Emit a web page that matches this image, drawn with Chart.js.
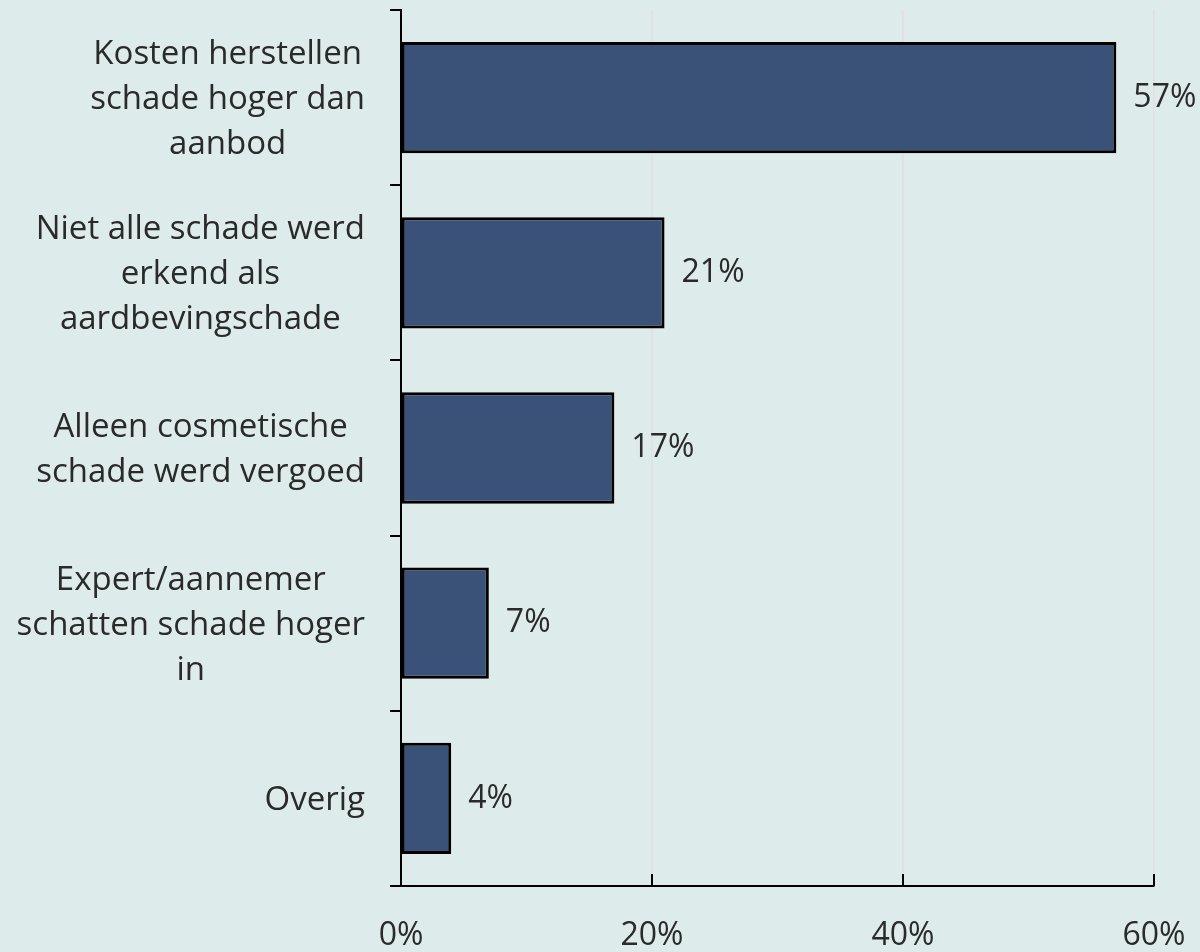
<!DOCTYPE html>
<html>
<head>
<meta charset="utf-8">
<script src="https://cdn.jsdelivr.net/npm/chart.js@4.4.1/dist/chart.umd.min.js"></script>
<style>
  html, body { margin: 0; padding: 0; background: #deebeb; }
  #wrap { width: 1200px; height: 952px; }
</style>
</head>
<body>
<div id="wrap"><canvas id="barChart" width="1200" height="952"></canvas></div>
<script>
// Categories (multi-line labels) and their shares in percent
const categories = [
    ['Kosten herstellen', 'schade hoger dan', 'aanbod'],
    ['Niet alle schade werd', 'erkend als', 'aardbevingschade'],
    ['Alleen cosmetische', 'schade werd vergoed'],
    ['Expert/aannemer', 'schatten schade hoger', 'in'],
    ['Overig']
];
const shares = [57, 21, 17, 7, 4];
const xTicks = [0, 20, 40, 60];

const FONT = "'Open Sans', 'DejaVu Sans', sans-serif";
const TEXT_COLOR = '#2a2a2a';
const LABEL_SIZE = 33;
const VALUE_SIZE = 32;

// Category labels: each block centred on itself, block right-aligned next to the axis
const categoryLabels = {
    id: 'categoryLabels',
    afterDraw(chart) {
        const ctx = chart.ctx;
        const y = chart.scales.y;
        const lineHeight = 45;
        ctx.save();
        ctx.font = LABEL_SIZE + 'px ' + FONT;
        ctx.fillStyle = TEXT_COLOR;
        ctx.textAlign = 'center';
        ctx.textBaseline = 'middle';
        categories.forEach((lines, i) => {
            const widest = Math.max(...lines.map(l => ctx.measureText(l).width));
            const cx = 365 - widest / 2;
            const cy = y.getPixelForValue(i) + 2;
            const top = cy - (lines.length - 1) * lineHeight / 2;
            lines.forEach((l, j) => ctx.fillText(l, cx, top + j * lineHeight));
        });
        ctx.restore();
    }
};

// Percent labels at the end of each bar
const valueLabels = {
    id: 'valueLabels',
    afterDatasetsDraw(chart) {
        const ctx = chart.ctx;
        const meta = chart.getDatasetMeta(0);
        ctx.save();
        ctx.font = VALUE_SIZE + 'px ' + FONT;
        ctx.fillStyle = TEXT_COLOR;
        ctx.textAlign = 'left';
        ctx.textBaseline = 'middle';
        meta.data.forEach((bar, i) => {
            ctx.fillText(shares[i] + '%', bar.x + 17, bar.y);
        });
        ctx.restore();
    }
};

// Tick marks on the x axis point inwards
const innerTicks = {
    id: 'innerTicks',
    afterDraw(chart) {
        const ctx = chart.ctx;
        const x = chart.scales.x;
        const bottom = chart.chartArea.bottom;
        ctx.save();
        ctx.strokeStyle = '#000';
        ctx.lineWidth = 2;
        xTicks.forEach(v => {
            const px = Math.round(x.getPixelForValue(v));
            ctx.beginPath();
            ctx.moveTo(px, bottom);
            ctx.lineTo(px, bottom - 12);
            ctx.stroke();
        });
        ctx.restore();
    }
};

function initChart() {
    const ctx = document.getElementById('barChart').getContext('2d');

    Chart.defaults.font.family = FONT;
    Chart.defaults.color = TEXT_COLOR;

    new Chart(ctx, {
        type: 'bar',
        data: {
            labels: categories.map(c => c.join(' ')),
            datasets: [{
                data: shares,
                backgroundColor: '#3a5278',
                borderColor: '#000',
                borderWidth: 3,
                borderSkipped: false,
                categoryPercentage: 1,
                barPercentage: 0.635
            }]
        },
        options: {
            indexAxis: 'y',
            responsive: false,
            animation: false,
            layout: { padding: { top: 10, right: 46, left: 0, bottom: 0 } },
            plugins: {
                legend: { display: false },
                tooltip: { enabled: false }
            },
            scales: {
                x: {
                    type: 'linear',
                    min: 0,
                    max: 60,
                    afterBuildTicks: s => { s.ticks = xTicks.map(v => ({ value: v })); },
                    afterFit: s => {
                        s.height = 66;
                        s.paddingLeft = 0;
                        s.paddingRight = 0;
                    },
                    ticks: {
                        callback: v => v + '%',
                        font: { size: VALUE_SIZE },
                        color: TEXT_COLOR,
                        padding: 31,
                        maxRotation: 0
                    },
                    grid: {
                        drawTicks: false,
                        lineWidth: 1.5,
                        color: c => (c.tick && c.tick.value === 0) ? 'rgba(0,0,0,0)' : '#e4dde1'
                    },
                    border: { display: true, color: '#000', width: 2 }
                },
                y: {
                    type: 'category',
                    offset: true,
                    afterFit: s => {
                        s.width = 401;
                        s.paddingTop = 0;
                        s.paddingBottom = 0;
                    },
                    ticks: { display: false },
                    grid: {
                        offset: true,
                        drawOnChartArea: false,
                        color: '#000',
                        lineWidth: 2,
                        tickLength: 11
                    },
                    border: { display: true, color: '#000', width: 2 }
                }
            }
        },
        plugins: [categoryLabels, valueLabels, innerTicks]
    });
}

document.addEventListener('DOMContentLoaded', initChart);
</script>
</body>
</html>
